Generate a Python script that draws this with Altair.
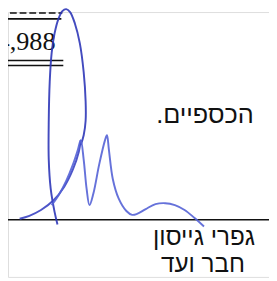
import altair as alt
import pandas as pd

# Signature strokes (x, y in image pixels, y downward)
sig1_x = [59, 56, 52, 50, 50, 51, 53, 56, 60, 64, 68, 72, 77, 82, 86, 88, 88, 86, 83]
sig1_y = [227, 214, 190, 160, 120, 80, 50, 30, 15, 7, 5, 8, 20, 40, 70, 100, 120, 135, 145]
sig2_x = [20, 30, 42, 55, 66, 75, 81, 83]
sig2_y = [221, 218, 212, 202, 188, 170, 152, 140]
sig3_x = [53, 60, 68, 75, 80, 83, 86, 89, 92, 96, 102, 108, 110, 112, 116, 122, 130, 136, 141, 150, 160, 170, 180, 190, 200, 210]
sig3_y = [207, 197, 182, 165, 150, 140, 160, 190, 207, 195, 165, 140, 135, 150, 180, 200, 213, 217, 216, 211, 206, 205, 207, 212, 220, 229]
sig_colors = {"a": "#2f37b8", "b": "#3a43c2", "c": "#5563d6"}

W, H = 277, 281
M = 8  # page margin

rows = []
for sid, xs_, ys_ in [("a", sig1_x, sig1_y), ("b", sig2_x, sig2_y), ("c", sig3_x, sig3_y)]:
    for i, (x, y) in enumerate(zip(xs_, ys_)):
        rows.append({"s": sid, "i": i, "x": x, "y": y, "c": sig_colors[sid]})
sig = pd.DataFrame(rows)

xs = alt.Scale(domain=[M, W], nice=False, zero=False)
ys = alt.Scale(domain=[H, M], nice=False, zero=False)

# Rules: (x1, x2, y, dashed)
rule_x1 = [0, 0, 0, 0, 5]
rule_x2 = [64, 63, 65, 65, 277]
rule_y = [9, 15, 58, 63, 222]
rule_dash = [1, 0, 0, 0, 0]
rules = pd.DataFrame({"x1": rule_x1, "x2": rule_x2, "y": rule_y, "d": rule_dash})

solid = alt.Chart(rules[rules.d == 0]).mark_rule(color="#111", strokeWidth=1.6).encode(
    x=alt.X("x1:Q", scale=xs, axis=None), x2="x2:Q", y=alt.Y("y:Q", scale=ys, axis=None))
dashed = alt.Chart(rules[rules.d == 1]).mark_rule(color="#111", strokeWidth=1.6, strokeDash=[7, 3]).encode(
    x=alt.X("x1:Q", scale=xs, axis=None), x2="x2:Q", y=alt.Y("y:Q", scale=ys, axis=None))

num_text = ["4,988"]
num = alt.Chart(pd.DataFrame({"t": num_text, "x": [57], "y": [47]})).mark_text(
    font="Liberation Serif", fontSize=27, align="right", baseline="alphabetic", color="#111").encode(
    x=alt.X("x:Q", scale=xs, axis=None), y=alt.Y("y:Q", scale=ys, axis=None), text="t:N")

heb_text = ["הכספיים.\u200f", "גפרי גייסון", "חבר ועד"]
heb_x = [211, 210, 209]
heb_y = [122, 248, 276]
heb_size = [26, 25, 25]
heb = alt.Chart(pd.DataFrame({"t": heb_text, "x": heb_x, "y": heb_y, "s": heb_size})).mark_text(
    font="Liberation Sans", align="center", baseline="alphabetic", color="#111").encode(
    x=alt.X("x:Q", scale=xs, axis=None), y=alt.Y("y:Q", scale=ys, axis=None), text="t:N",
    size=alt.Size("s:Q", scale=None, legend=None))

signature = alt.Chart(sig).mark_line(strokeWidth=2, interpolate="catmull-rom", opacity=0.9).encode(
    x=alt.X("x:Q", scale=xs, axis=None), y=alt.Y("y:Q", scale=ys, axis=None),
    color=alt.Color("c:N", scale=None, legend=None),
    detail="s:N", order="i:Q")

chart = alt.layer(solid, dashed, num, heb, signature).properties(
    width=W - M, height=H - M, padding=0, autosize=alt.AutoSizeParams(type="none")
).configure_view(stroke=None).configure(background="white")

chart.save("out.html", embed_options={"renderer": "svg", "actions": False})
